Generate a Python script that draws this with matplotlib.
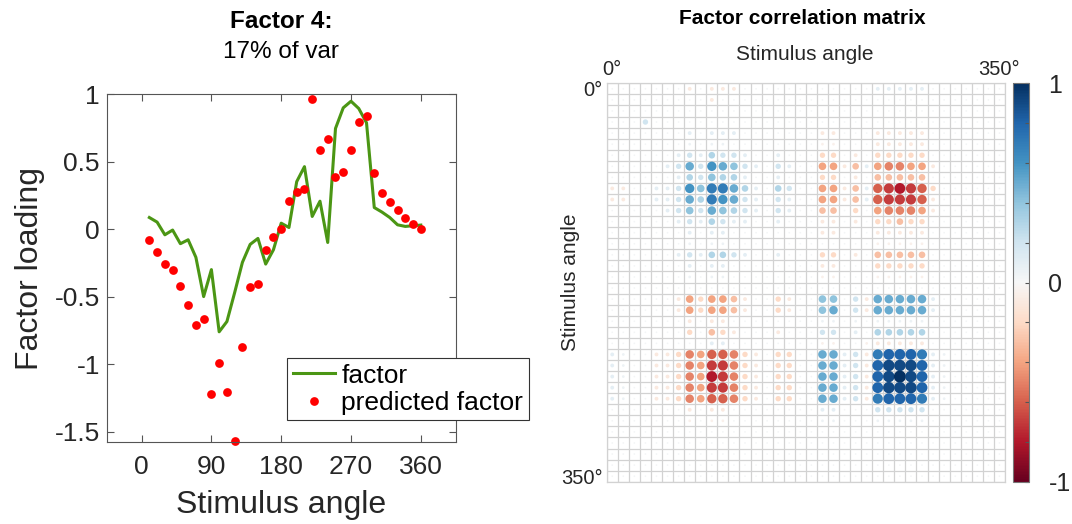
import numpy as np
import matplotlib
matplotlib.use('Agg')
import matplotlib.pyplot as plt
from matplotlib.colors import Normalize
from matplotlib.cm import ScalarMappable

plt.rcParams['font.family'] = ['Liberation Sans', 'DejaVu Sans']

# ---- data: factor 4 loadings ----
angles = [10, 20, 30, 40, 50, 60, 70, 80, 90, 100, 110, 120, 130, 140, 150, 160, 170, 180,
          190, 200, 210, 220, 230, 240, 250, 260, 270, 280, 290, 300, 310, 320, 330, 340, 350, 360]
factor_loading = [0.086, 0.052, -0.042, -0.007, -0.108, -0.079, -0.209, -0.50, -0.30, -0.761,
                  -0.685, -0.47, -0.246, -0.113, -0.069, -0.259, -0.153, 0.044,
                  0.012, 0.352, 0.463, 0.094, 0.207, -0.099, 0.746, 0.899, 0.948, 0.894,
                  0.788, 0.160, 0.126, 0.086, 0.032, 0.020, 0.025, 0.03]
predicted_factor = [-0.084, -0.167, -0.256, -0.303, -0.424, -0.562, -0.712, -0.667, -1.219, -0.993,
                    -1.204, -1.574, -0.874, -0.426, -0.404, -0.158, -0.059, 0.0,
                    0.207, 0.278, 0.296, 0.968, 0.584, 0.665, 0.384, 0.421, 0.584, 0.796,
                    0.840, 0.416, 0.268, 0.204, 0.145, 0.086, 0.039, 0.0]

ytick_vals = [-1.5, -1, -0.5, 0, 0.5, 1]
ytick_text = ['-1.5', '-1', '-0.5', '0', '0.5', '1']
xtick_vals = [0, 90, 180, 270, 360]

# ---- data: factor correlation matrix (36 x 36), one char per cell ----
# '0' ~0, '+'/'-' faint, '1'..'9' = 0.1..0.9, 'X' = 1, 'a'..'i' = -0.1..-0.9
corr_rows = [
    "000000" "0a0aaa" "000000" "000000" "111110" "000000",
    "000000" "000a00" "000000" "000000" "000000" "000000",
    "000000" "000000" "000000" "000000" "000000" "000000",
    "000200" "000000" "000000" "000000" "000000" "000000",
    "000000" "010111" "000000" "0aa000" "aaaaa0" "000000",
    "000000" "0+0++0" "000000" "0--000" "aaaaa0" "000000",
    "000000" "121322" "100100" "0bb0a0" "bbbbb0" "000000",
    "000001" "252654" "210210" "0ddac1" "deedda" "000000",
    "000000" "132433" "100100" "0bb0a0" "ccccc0" "000000",
    "aa0011" "264775" "310320" "0ddac1" "fghgfb" "000000",
    "aa0011" "253765" "210210" "0ddac1" "fgggfa" "000000",
    "000001" "242543" "210210" "0cc0b0" "deeeda" "000000",
    "000000" "121321" "100100" "0aa0a0" "bbcbb0" "000000",
    "000000" "010110" "000000" "0aa000" "aaaaa0" "000000",
    "000000" "0+0++0" "000000" "000000" "-----0" "000000",
    "000000" "121332" "100100" "0bb0a0" "ccccc0" "000000",
    "000000" "010110" "000000" "0aa000" "bbbbb0" "000000",
    "000000" "0+0++0" "000000" "0--000" "-----0" "000000",
    "000000" "000000" "000000" "000000" "000000" "000000",
    "000000" "adbddc" "a00ba0" "04402a" "555551" "000000",
    "000000" "adbddc" "a00ba0" "04502a" "555551" "000000",
    "000000" "0a0aa0" "000000" "0++0+0" "+++++0" "000000",
    "000000" "0b0cba" "000a00" "022010" "333330" "000000",
    "000000" "000110" "000000" "0--00-" "aaaaa0" "000000",
    "1+00aa" "bedffe" "ba0bb0" "05512a" "788871" "+00000",
    "1+00aa" "bedgge" "ba0bb0" "05512a" "899981" "+00000",
    "1+00aa" "bedhge" "ba0bb0" "05512a" "89X981" "+00000",
    "1+00aa" "bedgge" "ba0bb0" "05512a" "899981" "+00000",
    "1+00aa" "bedffe" "ba0bb0" "05512a" "788871" "+00000",
    "000000" "0a0aa0" "000000" "011000" "222220" "000000",
    "000000" "0-0--0" "000000" "0++000" "+++++0" "000000",
    "000000" "000000" "000000" "000000" "000000" "000000",
    "000000" "000000" "000000" "000000" "000000" "000000",
    "000000" "000000" "000000" "000000" "000000" "000000",
    "000000" "000000" "000000" "000000" "000000" "000000",
    "000000" "000000" "000000" "000000" "000000" "000000",
]
angle_labels = ['0°', '350°']


def decode(ch):
    if ch == '0':
        return 0.02
    if ch == '+':
        return 0.05
    if ch == '-':
        return -0.05
    if ch == 'X':
        return 1.0
    if ch == 'x':
        return -1.0
    if ch.isdigit():
        return int(ch) / 10.0
    return -(ord(ch) - 96) / 10.0


corr = np.array([[decode(c) for c in row] for row in corr_rows])

W, H = 1072, 524
fig = plt.figure(figsize=(W / 100, H / 100), dpi=100)
dark = '#262626'
edge = '#555555'

# ---- left panel ----
ax = fig.add_axes([106.7 / W, 1 - 442.3 / H, 349 / W, 348.1 / H])
ax.plot(angles, factor_loading, color='#4b9614', lw=2.2, label='factor')
ax.plot(angles, predicted_factor, 'o', color='#ff0000', ms=6.3, mec='none',
        label='predicted factor', clip_on=False)
ax.set_xlim(-45, 405)
ax.set_ylim(-1.58, 1)
ax.set_xticks(xtick_vals)
ax.set_yticks(ytick_vals)
ax.set_yticklabels(ytick_text)
ax.tick_params(direction='in', top=True, right=True, length=5, width=0.8,
               color=edge, labelsize=19, labelcolor=dark)
ax.tick_params(axis='x', pad=9)
ax.tick_params(axis='y', pad=5)
for sp in ax.spines.values():
    sp.set_color(edge)
    sp.set_linewidth(0.8)

leg = ax.legend(loc='upper left', bbox_to_anchor=(287.3 / W, 1 - 358.3 / H),
                bbox_transform=fig.transFigure, fontsize=19, fancybox=False,
                edgecolor='#333333', framealpha=1, borderpad=0.2, labelspacing=0.12,
                handlelength=1.6, handletextpad=0.25, borderaxespad=0, numpoints=1)
leg.get_frame().set_linewidth(0.8)

fig.text(281 / W, 1 - 22 / H, 'Factor 4:', ha='center', va='center',
         fontsize=17.5, fontweight='bold', color='black')
fig.text(281 / W, 1 - 52 / H, '17% of var', ha='center', va='center',
         fontsize=17.5, color='black')
fig.text(30 / W, 1 - 268 / H, 'Factor loading', rotation=90, ha='center',
         va='center', fontsize=23, color=dark)
fig.text(281 / W, 1 - 505 / H, 'Stimulus angle', ha='center', va='center',
         fontsize=23, color=dark)

# ---- right panel: correlation matrix ----
n = corr.shape[0]
ax2 = fig.add_axes([606.7 / W, 1 - 481.7 / H, 398.3 / W, 398.4 / H])
norm = Normalize(vmin=-1, vmax=1)
cmap = plt.get_cmap('RdBu')
jj, ii = np.meshgrid(np.arange(n), np.arange(n))
ax2.scatter(jj.ravel(), ii.ravel(), s=76 * np.abs(corr.ravel()),
            c=corr.ravel(), cmap=cmap, norm=norm, edgecolors='none', zorder=3)
ax2.set_xlim(-0.5, n - 0.5)
ax2.set_ylim(n - 0.5, -0.5)
ax2.set_xticks(np.arange(-0.5, n), minor=True)
ax2.set_yticks(np.arange(-0.5, n), minor=True)
ax2.grid(which='minor', color='#d2d2d2', lw=0.9)
ax2.tick_params(which='minor', length=0)
ax2.set_xticks([0, n - 1])
ax2.set_xticklabels(angle_labels)
ax2.set_yticks([0, n - 1])
ax2.set_yticklabels(angle_labels)
ax2.xaxis.tick_top()
ax2.tick_params(which='major', length=0, labelsize=14.5, labelcolor=dark, pad=3)
for sp in ax2.spines.values():
    sp.set_color('#d2d2d2')
    sp.set_linewidth(0.9)

fig.text(802 / W, 1 - 19 / H, 'Factor correlation matrix', ha='center', va='center',
         fontsize=15, fontweight='bold', color='black')
fig.text(805 / W, 1 - 55 / H, 'Stimulus angle', ha='center', va='center',
         fontsize=15, color=dark)
fig.text(570 / W, 1 - 282 / H, 'Stimulus angle', rotation=90, ha='center',
         va='center', fontsize=15, color=dark)

cax = fig.add_axes([1013 / W, 1 - 481.7 / H, 16 / W, 398.4 / H])
cb = fig.colorbar(ScalarMappable(norm=norm, cmap=cmap), cax=cax)
cb.set_ticks(np.linspace(-1, 1, 11))
cb.set_ticklabels(['-1', '', '', '', '', '0', '', '', '', '', '1'])
cax.tick_params(direction='in', length=3, width=0.8, color=edge,
                labelsize=18, labelcolor=dark, pad=14)
cb.outline.set_edgecolor('#777777')
cb.outline.set_linewidth(0.8)

fig.savefig('out.png', dpi=100)
